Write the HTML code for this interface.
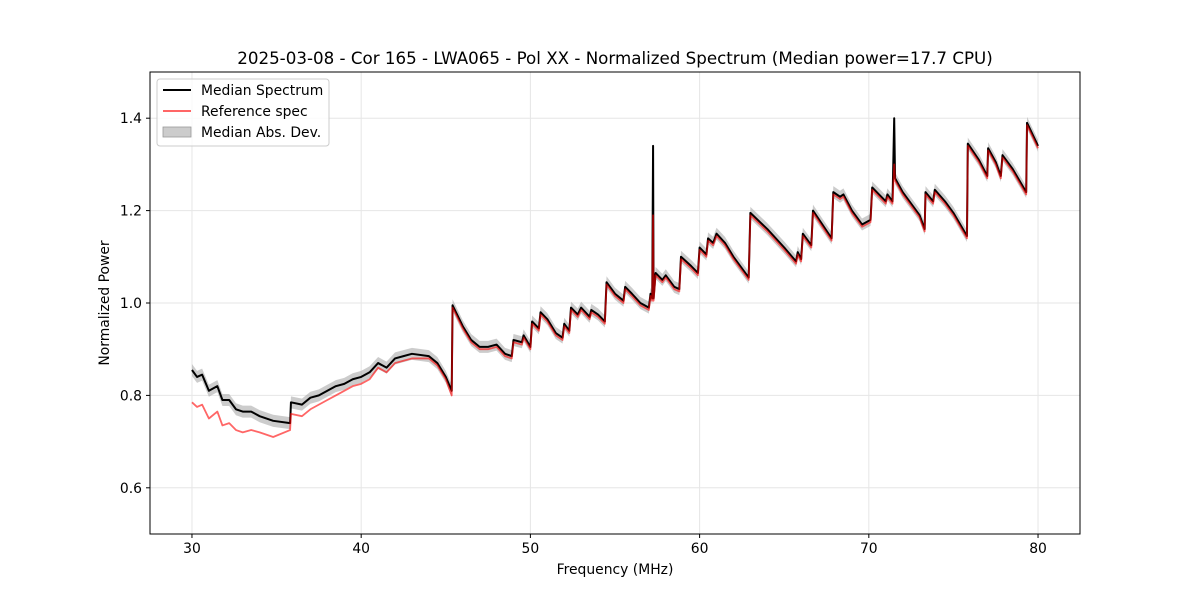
<!DOCTYPE html>
<html><head><meta charset="utf-8"><style>
body{margin:0;background:#fff;}
svg{display:block;font-family:"DejaVu Sans","Liberation Sans",sans-serif;}
</style></head><body>
<svg id="chart" width="1200" height="600">
<rect width="1200" height="600" fill="#fff"/>
<text x="615" y="64" text-anchor="middle" font-size="16.7">2025-03-08 - Cor 165 - LWA065 - Pol XX - Normalized Spectrum (Median power=17.7 CPU)</text>
<g id="grid"></g>
<g id="plot"></g>
<rect x="150" y="72" width="930" height="462" fill="none" stroke="#000" stroke-width="1"/>
<g id="ticks"></g>
<text x="615" y="574" text-anchor="middle" font-size="13.9">Frequency (MHz)</text>
<text transform="translate(109,303) rotate(-90)" text-anchor="middle" font-size="13.9">Normalized Power</text>
<g>
<rect x="157" y="79" width="172" height="67" rx="3" fill="#fff" fill-opacity="0.8" stroke="#ccc"/>
<g><line x1="163" y1="90" x2="191" y2="90" stroke="#000" stroke-width="2"/><text x="201" y="95" font-size="13.9">Median Spectrum</text></g>
<g><line x1="163" y1="111" x2="191" y2="111" stroke="#f66" stroke-width="2"/><text x="201" y="116" font-size="13.9">Reference spec</text></g>
<g><rect x="163" y="127" width="28" height="10" fill="#bbb" fill-opacity="0.75" stroke="#999" stroke-width="0.8"/><text x="201" y="137" font-size="13.9">Median Abs. Dev.</text></g>
</g>
</svg>
<script>
const freqs=[30,30.3,30.6,31,31.5,31.8,32.2,32.6,33,33.5,34,34.8,35.8,35.85,36.5,37,37.5,38,38.5,39,39.5,40,40.5,41,41.5,42,42.5,43,44,44.5,45,45.35,45.4,46,46.5,47,47.5,48,48.5,48.9,49,49.5,49.6,50,50.1,50.5,50.6,51,51.5,51.9,52,52.3,52.4,52.8,53,53.5,53.6,54,54.4,54.5,55,55.5,55.6,56,56.5,57,57.1,57.2,57.25,57.28,57.4,57.8,58,58.5,58.8,58.9,59.5,59.9,60,60.4,60.5,60.8,61,61.5,62,62.9,63,64,65,65.7,65.8,66,66.1,66.6,66.7,67.8,67.9,68.3,68.5,69,69.6,70.1,70.2,70.6,71,71.1,71.4,71.5,71.55,72,73,73.3,73.35,73.8,73.9,74.5,75,75.8,75.85,76.5,77,77.05,77.5,77.8,77.9,78.5,79.3,79.35,80];
const median=[0.855,0.84,0.845,0.81,0.82,0.79,0.79,0.77,0.765,0.765,0.755,0.745,0.74,0.785,0.78,0.795,0.8,0.81,0.82,0.825,0.835,0.84,0.85,0.87,0.86,0.88,0.885,0.89,0.885,0.87,0.84,0.81,0.995,0.95,0.92,0.905,0.905,0.91,0.89,0.885,0.92,0.915,0.93,0.905,0.96,0.945,0.98,0.965,0.935,0.925,0.955,0.94,0.99,0.975,0.99,0.97,0.985,0.975,0.96,1.045,1.02,1.005,1.035,1.02,1.0,0.99,1.02,1.01,1.34,1.01,1.065,1.05,1.06,1.035,1.03,1.1,1.08,1.065,1.12,1.105,1.14,1.13,1.15,1.13,1.1,1.055,1.195,1.16,1.12,1.09,1.11,1.095,1.15,1.125,1.2,1.14,1.24,1.23,1.235,1.2,1.17,1.18,1.25,1.235,1.22,1.235,1.22,1.4,1.27,1.24,1.19,1.16,1.24,1.22,1.245,1.22,1.195,1.145,1.345,1.31,1.275,1.335,1.305,1.275,1.32,1.29,1.24,1.39,1.34];
const reference=[0.785,0.775,0.78,0.75,0.765,0.735,0.74,0.725,0.72,0.725,0.72,0.71,0.725,0.76,0.755,0.77,0.78,0.79,0.8,0.81,0.82,0.825,0.835,0.86,0.85,0.87,0.875,0.88,0.88,0.865,0.835,0.8,0.99,0.945,0.915,0.9,0.9,0.905,0.885,0.88,0.915,0.91,0.925,0.9,0.955,0.94,0.975,0.96,0.93,0.92,0.95,0.935,0.985,0.97,0.985,0.965,0.98,0.97,0.955,1.04,1.015,1.0,1.03,1.015,0.995,0.985,1.015,1.005,1.19,1.005,1.06,1.045,1.055,1.03,1.025,1.095,1.075,1.06,1.115,1.1,1.135,1.125,1.145,1.125,1.095,1.05,1.19,1.155,1.115,1.085,1.105,1.09,1.145,1.12,1.195,1.135,1.235,1.225,1.23,1.195,1.165,1.175,1.245,1.23,1.215,1.23,1.215,1.3,1.265,1.235,1.185,1.155,1.235,1.215,1.24,1.215,1.19,1.14,1.34,1.305,1.27,1.33,1.3,1.27,1.315,1.285,1.235,1.385,1.335];
const madWidth=0.013;
const xTicks=[30,40,50,60,70,80];
const yTicks=[0.6,0.8,1.0,1.2,1.4];
const xMin=27.52,xMax=82.48,yMin=0.5,yMax=1.5;
const L=150,R=1080,T=72,B=534;
const sx=f=>L+(f-xMin)/(xMax-xMin)*(R-L);
const sy=v=>B-(v-yMin)/(yMax-yMin)*(B-T);
const NS='http://www.w3.org/2000/svg';
function mk(tag,attrs,parent){const e=document.createElementNS(NS,tag);for(const k in attrs)e.setAttribute(k,attrs[k]);parent.appendChild(e);return e;}
const grid=document.getElementById('grid'),plot=document.getElementById('plot'),ticks=document.getElementById('ticks');
xTicks.forEach(t=>{
 const g=mk('line',{x1:sx(t),x2:sx(t),y1:T,y2:B,stroke:'#e6e6e6','stroke-width':1},grid);
 
 
 const tk=mk('line',{x1:sx(t),x2:sx(t),y1:B,y2:B+4,stroke:'#000'},ticks);
 
 
 const lb=mk('text',{x:sx(t),y:B+19,'text-anchor':'middle','font-size':13.9},ticks);lb.textContent=t;
 
 
});
yTicks.forEach(t=>{
 const g=mk('line',{x1:L,x2:R,y1:sy(t),y2:sy(t),stroke:'#e6e6e6','stroke-width':1},grid);
 
 
 const tk=mk('line',{x1:L-4,x2:L,y1:sy(t),y2:sy(t),stroke:'#000'},ticks);
 
 
 const lb=mk('text',{x:L-8,y:sy(t)+5,'text-anchor':'end','font-size':13.9},ticks);lb.textContent=t.toFixed(1);
 
 
});
let up=freqs.map((f,i)=>sx(f)+','+sy(median[i]+madWidth)).join(' ');
let dn=freqs.map((f,i)=>sx(f)+','+sy(median[i]-madWidth)).reverse().join(' ');
const band=mk('polygon',{points:up+' '+dn,fill:'#aaa','fill-opacity':0.6},plot);


const ml=mk('polyline',{points:freqs.map((f,i)=>sx(f)+','+sy(median[i])).join(' '),fill:'none',stroke:'#000','stroke-width':2,'stroke-linejoin':'round'},plot);


const rl=mk('polyline',{points:freqs.map((f,i)=>sx(f)+','+sy(reference[i])).join(' '),fill:'none',stroke:'rgba(255,0,0,0.6)','stroke-width':1.8,'stroke-linejoin':'round'},plot);


</script>
</body></html>
